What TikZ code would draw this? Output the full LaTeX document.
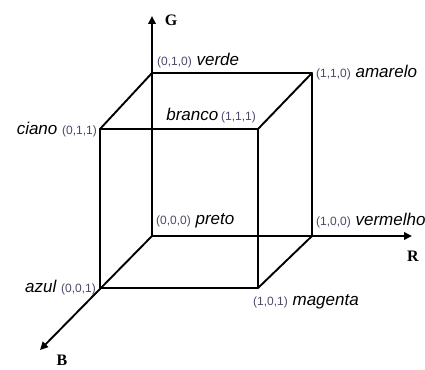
\documentclass[tikz,border=0pt]{standalone}
\usepackage{fontspec}
\setmainfont{Liberation Sans}
\newfontfamily\axisfont{Liberation Serif}
\usetikzlibrary{arrows.meta}
\definecolor{coordgray}{HTML}{4A4A68}
\begin{document}
\begin{tikzpicture}[x=1pt,y=-1pt,
  edge/.style={line width=1.9pt,line cap=round,line join=round},
  axis/.style={line width=1.9pt,-{Triangle[length=8pt,width=7.5pt]}},
  lbl/.style={inner sep=0pt,font=\fontsize{17}{17}\selectfont\itshape},
  axl/.style={inner sep=0pt,font=\axisfont\bfseries\fontsize{16}{16}\selectfont}]
\newcommand{\cc}[1]{{\fontsize{12}{12}\selectfont\upshape\color{coordgray}#1}}
\useasboundingbox (0,0) rectangle (425,369);
% vertices
\coordinate (O)   at (152,236);
\coordinate (R1)  at (312,236);
\coordinate (G1)  at (152,73);
\coordinate (RG)  at (312,73);
\coordinate (B1)  at (100,288);
\coordinate (RB)  at (258,288);
\coordinate (GB)  at (100,129);
\coordinate (W)   at (258,129);
\coordinate (Gt)  at (152,16);
\coordinate (Rt)  at (412,236);
\coordinate (Bt)  at (40,350);
% axes
\draw[axis] (O) -- (Gt);
\draw[axis] (O) -- (Rt);
\draw[axis] (O) -- (Bt);
% cube edges
\draw[edge] (G1) -- (RG) -- (R1);
\draw[edge] (B1) -- (RB) -- (W) -- (GB) -- cycle;
\draw[edge] (G1) -- (GB);
\draw[edge] (RG) -- (W);
\draw[edge] (R1) -- (RB);
% axis labels
\node[axl] (lG) at (171,20) {G};
\node[axl] (lR) at (413,256) {R};
\node[axl,anchor=base] (lB) at (62,365) {B};
% vertex labels
\node[lbl,anchor=base west] (verde) at (157,66) {\cc{(0,1,0)} verde};
\node[lbl,anchor=base west] (amarelo) at (316,77) {\cc{(1,1,0)} amarelo};
\node[lbl,anchor=base east] (branco) at (256,120) {branco\,\cc{(1,1,1)}};
\node[lbl,anchor=base east] (ciano) at (97,134) {ciano \cc{(0,1,1)}};
\node[lbl,anchor=base west] (preto) at (156,224) {\cc{(0,0,0)} preto};
\node[lbl,anchor=base west] (vermelho) at (316,225) {\cc{(1,0,0)} vermelho};
\node[lbl,anchor=base east] (azul) at (96,292) {azul \cc{(0,0,1)}};
\node[lbl,anchor=base west] (magenta) at (253,305) {\cc{(1,0,1)} magenta};
\end{tikzpicture}
\end{document}
